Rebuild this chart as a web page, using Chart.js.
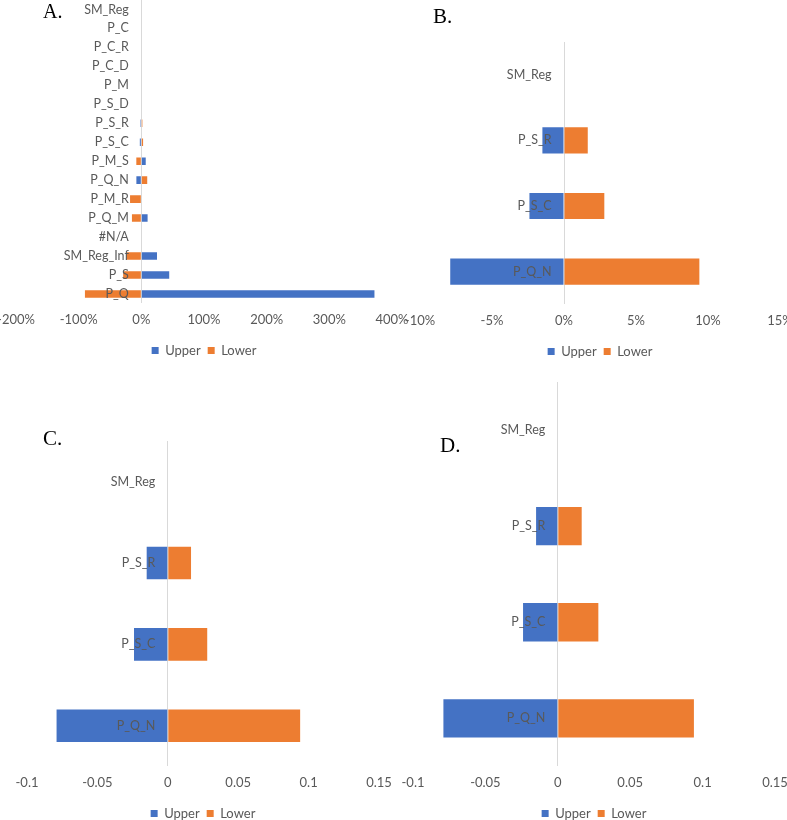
<!DOCTYPE html>
<html>
<head>
<meta charset="utf-8">
<script src="https://cdn.jsdelivr.net/npm/chart.js@4"></script>
<style>
  body { margin: 0; width: 787px; height: 820px; background: #fff; position: relative; overflow: hidden; }
  .wrap { position: absolute; }
  .tag { position: absolute; font-family: "Liberation Serif", serif; font-size: 21px; line-height: 1; color: #000; }
</style>
</head>
<body>
<div class="wrap" style="left:-14px;top:-30px;width:436px;height:397px"><canvas id="chartA"></canvas></div>
<div class="wrap" style="left:390px;top:12px;width:420px;height:356px"><canvas id="chartB"></canvas></div>
<div class="wrap" style="left:-3px;top:411px;width:412px;height:419px"><canvas id="chartC"></canvas></div>
<div class="wrap" style="left:383px;top:352px;width:422px;height:478px"><canvas id="chartD"></canvas></div>
<div class="tag" style="left:43px;top:1px;font-size:20px">A.</div>
<div class="tag" style="left:433px;top:6px">B.</div>
<div class="tag" style="left:43px;top:428px">C.</div>
<div class="tag" style="left:440px;top:435px">D.</div>
<script>
// panel A: all parameters
const labelsA = ['SM_Reg', 'P_C', 'P_C_R', 'P_C_D', 'P_M', 'P_S_D', 'P_S_R', 'P_S_C',
  'P_M_S', 'P_Q_N', 'P_M_R', 'P_Q_M', '#N/A', 'SM_Reg_Inf', 'P_S', 'P_Q'];
const upperA = [0, 0, 0, 0, 0, 0, -0.015, -0.024, 0.07, -0.079, 0, 0.10, 0, 0.25, 0.445, 3.72];
const lowerA = [0, 0, 0, 0, 0, 0, 0.0165, 0.028, -0.08, 0.094, -0.18, -0.15, 0, -0.24, -0.29, -0.90];

// panels B, C, D: selected parameters
const labelsBCD = ['SM_Reg', 'P_S_R', 'P_S_C', 'P_Q_N'];
const upperBCD = [0, -0.015, -0.024, -0.079];
const lowerBCD = [0, 0.0165, 0.028, 0.094];

const BLUE = '#4472C4';
const ORANGE = '#ED7D31';
const GREY = '#595959';
const FONT = 'Lato, "Liberation Sans", sans-serif';
const SIDE = 30;      // layout padding around each plot
const LABEL_GAP = 12.5; // px between category labels and the zero line

const pct = v => Math.round(v * 100) + '%';
const dec = v => String(parseFloat(v.toFixed(2)));

function makeChart(id, labels, upper, lower, min, max, step, fmt) {
  const canvas = document.getElementById(id);
  const plotW = canvas.parentNode.clientWidth - 2 * SIDE;
  // category labels sit just left of the zero line, like the Excel original
  const axisAt = -LABEL_GAP * (max - min) / plotW;

  new Chart(canvas, {
    type: 'bar',
    data: {
      labels: labels,
      datasets: [
        { label: 'Upper', data: upper, backgroundColor: BLUE },
        { label: 'Lower', data: lower, backgroundColor: ORANGE }
      ]
    },
    options: {
      indexAxis: 'y',
      responsive: true,
      maintainAspectRatio: false,
      animation: false,
      categoryPercentage: 0.8,
      barPercentage: 0.5,
      layout: { padding: { left: SIDE, right: SIDE, top: SIDE, bottom: 0 } },
      scales: {
        x: {
          stacked: true,
          min: min, max: max,
          border: { display: false },
          grid: {
            drawTicks: false,
            color: ctx => (ctx.tick && ctx.tick.value === 0) ? '#d9d9d9' : 'rgba(0,0,0,0)'
          },
          ticks: {
            stepSize: step,
            padding: 9,
            color: GREY,
            font: { family: FONT, size: 13 },
            callback: v => fmt(v)
          }
        },
        y: {
          stacked: true,
          position: { x: axisAt },
          border: { display: false },
          grid: { display: false, drawTicks: false },
          ticks: { z: 1, padding: 0, color: GREY, font: { family: FONT, size: 12.5 } }
        }
      },
      plugins: {
        tooltip: { enabled: false },
        legend: {
          position: 'bottom',
          labels: { boxWidth: 7, boxHeight: 7, padding: 7, color: GREY, font: { family: FONT, size: 13 } }
        }
      }
    }
  });
}

makeChart('chartA', labelsA, upperA, lowerA, -2, 4, 1, pct);
makeChart('chartB', labelsBCD, upperBCD, lowerBCD, -0.1, 0.15, 0.05, pct);
makeChart('chartC', labelsBCD, upperBCD, lowerBCD, -0.1, 0.15, 0.05, dec);
makeChart('chartD', labelsBCD, upperBCD, lowerBCD, -0.1, 0.15, 0.05, dec);
</script>
</body>
</html>
